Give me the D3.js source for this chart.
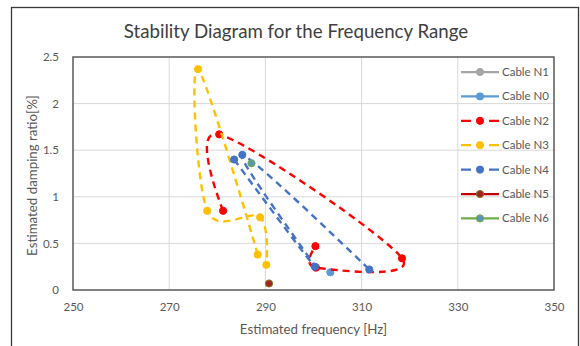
<!DOCTYPE html>
<html>
<head>
<meta charset="utf-8">
<script src="https://cdn.jsdelivr.net/npm/d3@7"></script>
<style>
  html, body { margin: 0; padding: 0; background: #fff; }
  svg { display: block; font-family: Lato, "Open Sans", sans-serif; }
</style>
</head>
<body>
<svg id="chart" width="580" height="346"></svg>
<script>
// Series, in drawing order
const seriesNames = ["Cable N1", "Cable N0", "Cable N2", "Cable N3", "Cable N4", "Cable N5", "Cable N6"];

// Estimated frequency [Hz] and damping ratio [%] per cable, in measurement order
const n1Freq = [];
const n1Damp = [];
const n0Freq = [303.5];
const n0Damp = [0.19];
const n2Freq = [281.2, 280.4, 318.4, 300.5, 300.4];
const n2Damp = [0.85, 1.67, 0.34, 0.24, 0.47];
const n3Freq = [288.4, 276.0, 277.9, 288.9, 290.2];
const n3Damp = [0.38, 2.37, 0.85, 0.78, 0.27];
const n4Freq = [283.5, 300.3, 285.2, 311.6];
const n4Damp = [1.40, 0.25, 1.45, 0.22];
const n5Freq = [290.75];
const n5Damp = [0.07];
const n6Freq = [287.1];
const n6Damp = [1.36];

// Axis ticks
const xTicks = [250, 270, 290, 310, 330, 350];
const yTicks = [0, 0.5, 1, 1.5, 2, 2.5];

const series = [
  { name: seriesNames[0], f: n1Freq, d: n1Damp, color: "#A5A5A5", dashed: false, fill: "#A5A5A5", ring: "#A5A5A5" },
  { name: seriesNames[1], f: n0Freq, d: n0Damp, color: "#5B9BD5", dashed: false, fill: "#5B9BD5", ring: "#5B9BD5" },
  { name: seriesNames[2], f: n2Freq, d: n2Damp, color: "#FF0000", dashed: true,  fill: "#FF0000", ring: "#FF0000" },
  { name: seriesNames[3], f: n3Freq, d: n3Damp, color: "#FFC000", dashed: true,  fill: "#FFC000", ring: "#FFC000" },
  { name: seriesNames[4], f: n4Freq, d: n4Damp, color: "#4472C4", dashed: true,  fill: "#4472C4", ring: "#4472C4" },
  { name: seriesNames[5], f: n5Freq, d: n5Damp, color: "#C00000", dashed: false, fill: "#A3221C", ring: "#7F7A2A" },
  { name: seriesNames[6], f: n6Freq, d: n6Damp, color: "#70AD47", dashed: false, fill: "#5C94B8", ring: "#70AD47" }
];

const svg = d3.select("#chart");
const plot = { left: 73, right: 554, top: 57, bottom: 290 };

const x = d3.scaleLinear().domain([250, 350]).range([plot.left, plot.right]);
const y = d3.scaleLinear().domain([0, 2.5]).range([plot.bottom, plot.top]);

// Chart frame
svg.append("rect")
  .attr("x", 11.5).attr("y", 7.5).attr("width", 567).attr("height", 345)
  .attr("fill", "#fff").attr("stroke", "#3a3a3a").attr("stroke-width", 1.3);

// Title
svg.append("text")
  .attr("x", 296).attr("y", 38)
  .attr("text-anchor", "middle")
  .attr("font-size", 18.7)
  .attr("fill", "#404040")
  .text("Stability Diagram for the Frequency Range");

// Gridlines
const grid = svg.append("g");
grid.selectAll("line.v").data(xTicks.slice(1, -1)).join("line")
  .attr("x1", d => x(d)).attr("x2", d => x(d))
  .attr("y1", plot.top).attr("y2", plot.bottom)
  .attr("stroke", "#D9D9D9").attr("stroke-width", 1);
grid.selectAll("line.h").data(yTicks.slice(1, -1)).join("line")
  .attr("x1", plot.left).attr("x2", plot.right)
  .attr("y1", d => y(d)).attr("y2", d => y(d))
  .attr("stroke", "#D9D9D9").attr("stroke-width", 1);

// Axes (labels only, frame drawn separately)
const xAxis = svg.append("g")
  .attr("transform", `translate(0,${plot.bottom + 10})`)
  .call(d3.axisBottom(x).tickValues(xTicks).tickSize(0).tickFormat(d3.format("d")));
const yAxis = svg.append("g")
  .attr("transform", `translate(${plot.left - 11},0)`)
  .call(d3.axisLeft(y).tickValues(yTicks).tickSize(0).tickFormat(d => String(d)));
[xAxis, yAxis].forEach(g => {
  g.select(".domain").remove();
  g.selectAll("text").attr("font-family", "Lato, sans-serif").attr("font-size", 11.5).attr("fill", "#595959");
});
xAxis.selectAll("text").attr("dy", "0.71em");

// Plot frame
svg.append("rect")
  .attr("x", plot.left).attr("y", plot.top)
  .attr("width", plot.right - plot.left).attr("height", plot.bottom - plot.top)
  .attr("fill", "none").attr("stroke", "#595959").attr("stroke-width", 1.5);

// Axis titles
svg.append("text")
  .attr("x", (plot.left + plot.right) / 2).attr("y", 334)
  .attr("text-anchor", "middle").attr("font-size", 13.3).attr("fill", "#595959")
  .text("Estimated frequency [Hz]");
svg.append("text")
  .attr("transform", `translate(37,${(plot.top + plot.bottom) / 2 + 2}) rotate(-90)`)
  .attr("text-anchor", "middle").attr("font-size", 13.3).attr("fill", "#595959")
  .text("Estimated damping ratio[%]");

// Smoothed series lines and markers
const line = d3.line()
  .x(p => x(p[0])).y(p => y(p[1]))
  .curve(d3.curveCatmullRom.alpha(0));

const marks = svg.append("g");
series.forEach(s => {
  const pts = s.f.map((f, i) => [f, s.d[i]]);
  const g = marks.append("g");
  if (pts.length > 1) {
    g.append("path")
      .attr("d", line(pts))
      .attr("fill", "none")
      .attr("stroke", s.color)
      .attr("stroke-width", 2.4)
      .attr("stroke-dasharray", s.dashed ? "7,5" : null)
      .attr("stroke-linejoin", "round");
  }
  g.selectAll("circle").data(pts).join("circle")
    .attr("cx", p => x(p[0])).attr("cy", p => y(p[1]))
    .attr("r", 3.6)
    .attr("fill", s.fill)
    .attr("stroke", s.ring)
    .attr("stroke-width", 1);
});

// Legend
const legend = svg.append("g");
series.forEach((s, i) => {
  const ly = 72 + i * 24.4;
  const item = legend.append("g");
  item.append("line")
    .attr("x1", 461).attr("x2", 499).attr("y1", ly).attr("y2", ly)
    .attr("stroke", s.color).attr("stroke-width", 2.25)
    .attr("stroke-dasharray", s.dashed ? "10,18,10" : null);
  item.append("circle")
    .attr("cx", 480).attr("cy", ly).attr("r", 3.6)
    .attr("fill", s.fill).attr("stroke", s.ring).attr("stroke-width", 1);
  item.append("text")
    .attr("x", 502).attr("y", ly).attr("dy", "0.35em")
    .attr("font-size", 11.5).attr("fill", "#595959")
    .text(s.name);
});
</script>
</body>
</html>
